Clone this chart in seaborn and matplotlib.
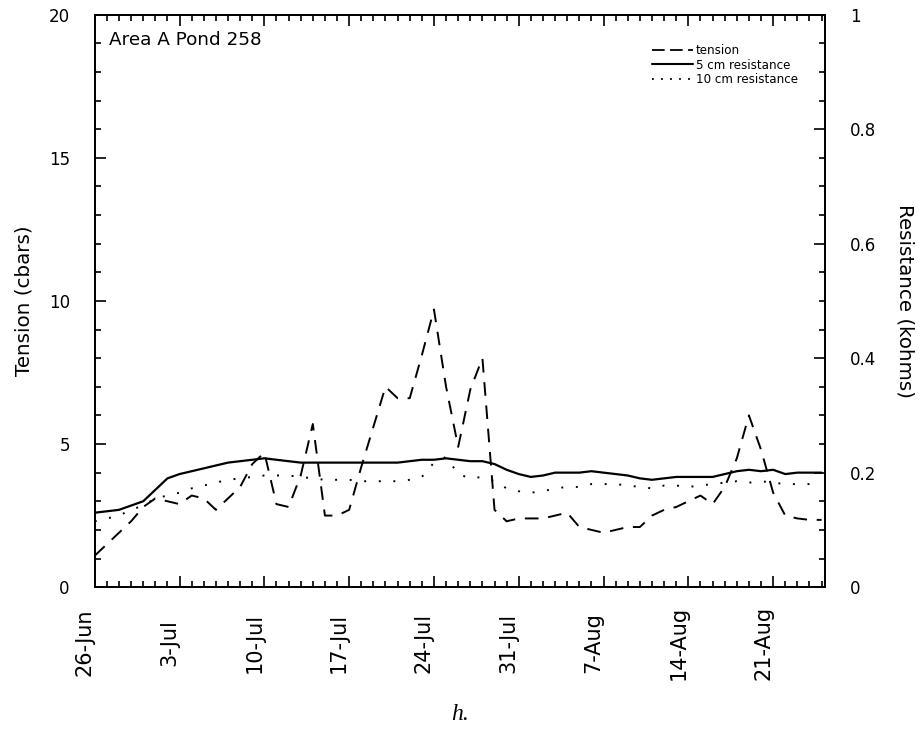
import matplotlib
matplotlib.use("Agg")
import matplotlib.pyplot as plt
import matplotlib.lines as mlines
import seaborn as sns
import pandas as pd
from matplotlib.ticker import MultipleLocator, FixedLocator

sns.set_style("ticks")
plt.rcParams['font.family'] = ['DejaVu Sans']
plt.rcParams.update({'text.color': 'black', 'axes.labelcolor': 'black',
                     'xtick.color': 'black', 'ytick.color': 'black'})

# days since 26-Jun
day = list(range(61))

# tension (cbars), left axis
tension = [1.1, 1.5, 1.9, 2.3, 2.8, 3.1, 3.0, 2.9, 3.2, 3.1,
           2.7, 3.1, 3.5, 4.3, 4.7, 2.9, 2.8, 3.9, 5.7, 2.5,
           2.5, 2.7, 4.2, 5.6, 7.0, 6.6, 6.6, 8.1, 9.7, 7.0,
           4.9, 6.9, 8.0, 2.7, 2.3, 2.4, 2.4, 2.4, 2.5, 2.6,
           2.1, 2.0, 1.9, 2.0, 2.1, 2.1, 2.5, 2.7, 2.8, 3.0,
           3.2, 2.9, 3.5, 4.5, 6.0, 4.8, 3.3, 2.5, 2.4, 2.35,
           2.35]

# resistance (kohms), right axis
res_5cm = [0.130, 0.1325, 0.135, 0.1425, 0.150, 0.170, 0.190, 0.1975, 0.2025, 0.2075,
           0.2125, 0.2175, 0.220, 0.2225, 0.225, 0.2225, 0.220, 0.2175, 0.2175, 0.2175,
           0.2175, 0.2175, 0.2175, 0.2175, 0.2175, 0.2175, 0.220, 0.2225, 0.2225, 0.225,
           0.2225, 0.220, 0.220, 0.215, 0.205, 0.1975, 0.1925, 0.195, 0.200, 0.200,
           0.200, 0.2025, 0.200, 0.1975, 0.195, 0.190, 0.1875, 0.190, 0.1925, 0.1925,
           0.1925, 0.1925, 0.1975, 0.2025, 0.205, 0.2025, 0.205, 0.1975, 0.200, 0.200,
           0.200]

res_10cm = [0.115, 0.120, 0.125, 0.135, 0.1425, 0.155, 0.160, 0.165, 0.1725, 0.1775,
            0.1825, 0.1875, 0.190, 0.1925, 0.195, 0.195, 0.195, 0.1925, 0.190, 0.1875,
            0.1875, 0.1875, 0.185, 0.185, 0.185, 0.185, 0.1875, 0.1925, 0.2175, 0.2275,
            0.1975, 0.190, 0.1925, 0.185, 0.1725, 0.1675, 0.165, 0.1675, 0.1725, 0.175,
            0.175, 0.180, 0.180, 0.180, 0.1775, 0.175, 0.1725, 0.1775, 0.1775, 0.175,
            0.1775, 0.180, 0.1825, 0.185, 0.1825, 0.185, 0.1825, 0.180, 0.180, 0.180,
            0.180]

tick_days = [0, 7, 14, 21, 28, 35, 42, 49, 56]
tick_labels = ['26-Jun', '3-Jul', '10-Jul', '17-Jul', '24-Jul',
               '31-Jul', '7-Aug', '14-Aug', '21-Aug']

df = pd.DataFrame({'day': day, 'tension': tension,
                   'res5': res_5cm, 'res10': res_10cm})

fig, ax = plt.subplots(figsize=(9.2, 7.33), dpi=100)
fig.subplots_adjust(left=0.103, right=0.897, top=0.980, bottom=0.199)
ax2 = ax.twinx()

dash = (0, (7, 5))
dots = (0, (1, 6.5))
sns.lineplot(data=df, x='day', y='tension', ax=ax, color='black', lw=1.4,
             linestyle=dash, errorbar=None, legend=False)
sns.lineplot(data=df, x='day', y='res5', ax=ax2, color='black', lw=1.6,
             errorbar=None, legend=False)
sns.lineplot(data=df, x='day', y='res10', ax=ax2, color='black', lw=1.4,
             linestyle=dots, errorbar=None, legend=False)

ax.set_xlim(0, 60.3)
ax.set_ylim(0, 20)
ax2.set_ylim(0, 1)

ax.xaxis.set_major_locator(FixedLocator(tick_days))
ax.xaxis.set_minor_locator(MultipleLocator(1))
ax.set_xticklabels(tick_labels, rotation=90, fontsize=15, ha='right', va='center')
ax.yaxis.set_major_locator(MultipleLocator(5))
ax.yaxis.set_minor_locator(MultipleLocator(1))
ax2.yaxis.set_minor_locator(MultipleLocator(0.05))
ax2.set_yticks([0, 0.2, 0.4, 0.6, 0.8, 1.0])
ax2.set_yticklabels(['0', '0.2', '0.4', '0.6', '0.8', '1'])

ax.tick_params(axis='x', which='both', direction='in', top=True, pad=40, width=1.2)
ax.tick_params(axis='x', which='major', length=8)
ax.tick_params(axis='x', which='minor', length=4)
ax.tick_params(axis='y', which='both', direction='in', left=True, right=False,
               labelsize=12, pad=18, width=1.2)
ax.tick_params(axis='y', which='major', length=8)
ax.tick_params(axis='y', which='minor', length=4)
ax2.tick_params(axis='y', which='both', direction='in', right=True,
                labelsize=12, pad=18, width=1.2)
ax2.tick_params(axis='y', which='major', length=8)
ax2.tick_params(axis='y', which='minor', length=4)

for a in (ax, ax2):
    for s in a.spines.values():
        s.set_visible(True)
        s.set_linewidth(1.4)
        s.set_color('black')

ax.set_xlabel('')
ax.set_ylabel('Tension (cbars)', fontsize=14.3, labelpad=11)
ax2.set_ylabel('Resistance (kohms)', fontsize=14.3, rotation=-90, labelpad=27)

ax.text(0.02, 0.955, 'Area A Pond 258', transform=ax.transAxes,
        fontsize=13.2, va='center', ha='left')

handles = [mlines.Line2D([], [], color='black', lw=1.3, linestyle=(0, (7, 3))),
           mlines.Line2D([], [], color='black', lw=1.5),
           mlines.Line2D([], [], color='black', lw=1.3, linestyle=(0, (1, 4)))]
ax2.legend(handles, ['tension', '5 cm resistance', '10 cm resistance'],
           loc='upper left', bbox_to_anchor=(0.763, 0.948), frameon=False,
           borderpad=0, borderaxespad=0,
           fontsize=8.6, handlelength=3.4, handletextpad=0.25, labelspacing=0.1)

fig.text(0.5, 0.025, 'h.', fontsize=17, style='italic',
         family=['Liberation Serif', 'DejaVu Serif'], ha='center', va='center')

fig.savefig('out.png', dpi=100)
